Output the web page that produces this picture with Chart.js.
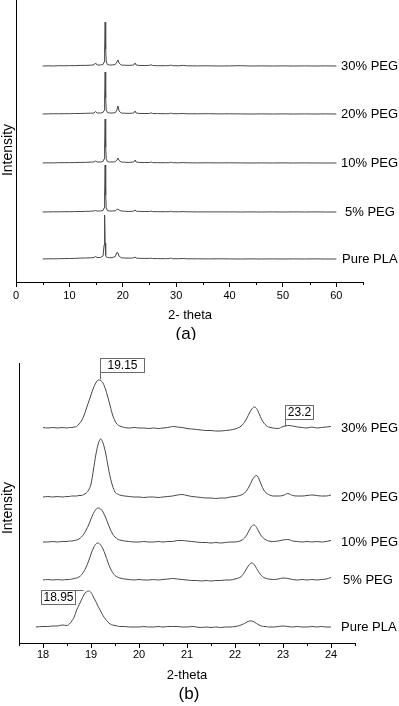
<!DOCTYPE html>
<html>
<head>
<meta charset="utf-8">
<script src="https://cdn.jsdelivr.net/npm/chart.js@4.4.1/dist/chart.umd.min.js"></script>
<style>
  html, body { margin: 0; padding: 0; background: #fff; }
  .wrap { position: relative; width: 399px; height: 706px; }
  canvas { position: absolute; left: 0; }
  #chartA { top: 0; }
  #chartB { top: 340px; }
</style>
</head>
<body>
<div class="wrap">
  <canvas id="chartA" width="399" height="340"></canvas>
  <canvas id="chartB" width="399" height="366"></canvas>
</div>
<script>
// series names, top to bottom
const seriesNames = ['30% PEG', '20% PEG', '10% PEG', '5% PEG', 'Pure PLA'];

// ---- panel (a): full scan, 2-theta 5..60 ----
const thetaA = [5, 6, 7, 8, 9, 10, 11, 12, 13, 14,
  14.6, 14.9, 15.2, 15.8, 16.3, 16.5, 16.6, 16.7, 16.8, 16.9,
  17.1, 17.5, 18.0, 18.6, 18.9, 19.1, 19.3, 19.7, 20.3, 21.0,
  21.8, 22.1, 22.3, 22.5, 23.0, 24.0, 25.0, 25.3, 25.6, 26.5,
  28.0, 28.7, 29.0, 29.3, 30.5, 31.3, 32.0, 34, 36, 38,
  40, 42, 44, 46, 48, 50, 52, 54, 56, 58,
  60];
const peg30A = [0, 0.2, 0, 0.3, 0.2, 0.4, 0.3, 0.6, 0.6, 0.8,
  1.2, 3, 1, 1, 1.5, 4, 16, 44, 17, 5,
  1.5, 1, 1, 1.5, 4, 6, 3, 1, 0.8, 0.6,
  0.8, 1.2, 3, 1, 0.6, 0.5, 0.6, 1.3, 0.5, 0.3,
  0.3, 0.4, 1, 0.3, 0.2, 0.6, 0.2, 0.1, 0.2, 0,
  0.1, 0.3, 0, 0.1, 0, 0.1, 0, 0.1, 0, 0.1,
  0];
const peg20A = [0, 0.1, 0.3, 0.2, 0.3, 0.3, 0.5, 0.5, 0.7, 0.8,
  1, 2.5, 1, 1, 1.5, 3.5, 15, 42, 16, 4.5,
  1.5, 1, 1, 1.3, 4, 8, 3, 1, 0.8, 0.6,
  0.8, 1.2, 3, 1, 0.6, 0.5, 0.5, 1.2, 0.5, 0.4,
  0.3, 0.3, 1, 0.3, 0.3, 0.5, 0.2, 0.2, 0.3, 0.1,
  0.2, 0.1, 0, 0.1, 0, 0.1, 0, 0.1, 0, 0.1,
  0];
const peg10A = [0, 0.2, 0.1, 0.3, 0.3, 0.4, 0.4, 0.6, 0.6, 0.9,
  1, 2, 1, 1, 1.5, 4, 16, 44, 16, 4.5,
  1.5, 1, 1, 1.3, 3, 5, 2.5, 1, 0.8, 0.6,
  0.8, 1.2, 3, 1, 0.6, 0.5, 0.5, 1, 0.4, 0.3,
  0.3, 0.3, 0.8, 0.3, 0.2, 0.4, 0.2, 0.1, 0.2, 0.1,
  0.2, 0.1, 0, 0.1, 0, 0.1, 0, 0.1, 0, 0,
  0];
const peg5A = [0, 0.1, 0.2, 0.2, 0.3, 0.3, 0.4, 0.5, 0.6, 0.8,
  1, 1.5, 1, 1, 1.5, 4, 17, 47, 17, 4.5,
  1.5, 1, 1, 1.2, 2.5, 3, 2, 1, 0.8, 0.6,
  0.7, 1, 2, 0.8, 0.6, 0.5, 0.5, 0.9, 0.4, 0.3,
  0.3, 0.3, 0.8, 0.3, 0.2, 0.4, 0.2, 0.1, 0.1, 0.1,
  0.1, 0, 0.1, 0, 0.1, 0, 0.1, 0, 0.1, 0,
  0];
const plaA = [0, 0.2, 0.2, 0.3, 0.4, 0.5, 0.6, 0.9, 1, 1.2,
  1.5, 2.5, 1.5, 1.5, 3, 14, 44, 16, 4, 2,
  1.5, 1.3, 1.3, 2.5, 6.5, 6, 3, 1.2, 1, 0.9,
  1, 1.3, 2, 1, 0.7, 0.6, 0.6, 0.8, 0.5, 0.4,
  0.3, 0.4, 1, 0.3, 0.3, 0.5, 0.2, 0.2, 0.1, 0.2,
  0.1, 0, 0.1, 0, 0.1, 0, 0.1, 0, 0.1, 0,
  0];
const ticksA = [0, 10, 20, 30, 40, 50, 60];
const minorA = [5, 15, 25, 35, 45, 55, 65];

// ---- panel (b): zoom 18..24 ----
const thetaB = [17.85, 18.0, 18.1, 18.2, 18.3, 18.4, 18.5, 18.55, 18.6, 18.65,
  18.7, 18.75, 18.8, 18.85, 18.9, 18.95, 19.0, 19.05, 19.1, 19.15,
  19.2, 19.25, 19.3, 19.35, 19.4, 19.45, 19.5, 19.55, 19.6, 19.7,
  19.8, 19.9, 20.0, 20.1, 20.2, 20.3, 20.4, 20.5, 20.6, 20.7,
  20.8, 20.9, 21.0, 21.1, 21.2, 21.3, 21.4, 21.5, 21.6, 21.7,
  21.8, 21.9, 22.0, 22.1, 22.15, 22.2, 22.25, 22.3, 22.35, 22.4,
  22.45, 22.5, 22.55, 22.6, 22.65, 22.7, 22.8, 22.9, 23.0, 23.1,
  23.2, 23.3, 23.4, 23.5, 23.6, 23.7, 23.8, 23.9, 24.0];
const peg30B = [null, 0.5, 0, 0.5, 0, 0.5, 0, 0.5, 0.5, 1,
  1.5, 4, 7, 12, 19, 26, 33, 40, 45, 48,
  47.5, 45, 39, 31, 22, 13, 7, 3.5, 2, 0.5,
  0, 0.5, 0, 0, -0.5, 0, -0.5, 0, 0.5, 1.5,
  1, 0.5, -0.5, -1, -1.5, -2, -2.5, -2.5, -3, -3,
  -2.5, -2, -1, 1, 3, 6, 10, 15, 19, 21,
  19.5, 14.5, 9, 5, 2.5, 1, 0, -0.5, 1.5, 2.5,
  2, 1, 0.5, 0, 1, 0, 0.5, 1, 1.5];
const peg20B = [null, 0, 0.5, 0, 0.5, 0, 0.5, 0.5, 1, 1,
  1, 1.5, 1.5, 2.5, 4, 7, 13, 27, 42, 53,
  58, 54, 45, 32, 20, 11, 5, 3, 2, 1,
  0.5, 0, 0, -0.5, 0, 0, -0.5, 0, 0.5, 1,
  2, 2.5, 1.5, 0.5, 0, -0.5, -1, -1, -1.5, -1,
  -1, 0, 0.5, 1.5, 2.5, 4, 7, 11, 16, 20,
  21.5, 18, 12, 7, 4, 2.5, 1, 1, 1.5, 3.5,
  1.5, 1, 1, 1.5, 2, 1.5, 1, 1, 2];
const peg10B = [null, 0, 0, 0.5, 0, 0.5, 0.5, 1, 1, 1.5,
  2, 3, 5, 8, 12, 17, 23, 28.5, 32.5, 34,
  33, 30, 25, 19, 13, 8, 5, 3, 2, 1,
  0.5, 0, 0, 0.5, 0, 0, 0.5, 0, 0.5, 0.5,
  1.5, 1.5, 1, 0.5, 0, -0.5, -0.5, -1, -0.5, -1,
  -0.5, 0, 0, 1, 2, 4, 7.5, 12, 16, 17,
  14.5, 10, 6, 3.5, 2, 1, 0.5, 1, 2, 2.5,
  1, 0.5, 0, 0.5, 0, 0.5, 0, 0.5, 1.5];
const peg5B = [null, 0, 0.5, 0, 0.5, 0, 0.5, 0.5, 1, 1.5,
  2, 3, 5, 8.5, 13, 19, 26, 32, 36, 37,
  35, 31, 25, 18, 12, 7.5, 4.5, 3, 2, 1,
  0.5, 0, 0.5, 0, 0, 0.5, 0, 0.5, 1, 1.5,
  1, 0.5, 0, -0.5, -0.5, -1, -0.5, -1, -0.5, -0.5,
  0, 0, 1, 2.5, 4.5, 8, 12, 15.5, 17, 15.5,
  11.5, 7.5, 4.5, 2.5, 1.5, 1, 0.5, 1, 2, 1.5,
  0.5, 0, 0.5, 0, 0.5, 0, 0.5, 1, 2.5];
const plaB = [0, 0.5, 0.5, 1, 1, 2, 1.5, 3, 6, 10,
  17, 22, 27, 32, 35, 36, 34.5, 30, 25.5, 20.5,
  16, 11.5, 8, 5, 3, 2, 1.5, 1, 0.5, 0.5,
  0, 0, 0, 0.5, 0, 0, 0.5, 0, 0.5, 0.5,
  0.5, 0, 0, 0.5, 0, -0.5, 0, -0.5, 0, -0.5,
  0, 0, 0.5, 1.5, 2.5, 3.5, 5, 6, 6, 5,
  3.5, 2, 1, 0.5, 0.5, 0, 0, 0.5, 1, 0.5,
  0, 0.5, 0, 0, 0.5, 0, 0.5, 0, 0];
const ticksB = [18, 19, 20, 21, 22, 23, 24];
const minorB = [17.5, 18.5, 19.5, 20.5, 21.5, 22.5, 23.5, 24.5];

// peak callouts in panel (b): label, 2-theta, series index, peak height
const calloutText = ['19.15', '23.2', '18.95'];
const calloutTheta = [19.15, 23.0, 18.95];
const calloutSeries = [0, 0, 4];
const calloutPeak = [48, 1.5, 36];

// vertical stacking of the traces (layout)
const offsetsA = [216, 168, 119, 70, 23];
const offsetsB = [215, 146, 101, 63, 16];

const FONT = '"Liberation Sans", Arial, Helvetica, sans-serif';
const TRACE = '#474747';

function toPoints(theta, vals, off) {
  return theta.map((t, i) => ({ x: t, y: vals[i] == null ? null : vals[i] + off }));
}

const panelText = {
  id: 'panelText',
  afterDraw(chart, args, o) {
    const ctx = chart.ctx;
    const xs = chart.scales.x, ys = chart.scales.y;
    ctx.save();
    // minor ticks
    ctx.strokeStyle = '#000';
    ctx.lineWidth = 1;
    o.minor.forEach(v => {
      const px = Math.round(xs.getPixelForValue(v)) + 0.5;
      ctx.beginPath();
      ctx.moveTo(px, Math.round(xs.top));
      ctx.lineTo(px, Math.round(xs.top) + 3);
      ctx.stroke();
    });
    ctx.fillStyle = '#000';
    ctx.textBaseline = 'middle';
    // series names at right
    ctx.font = '13px ' + FONT;
    ctx.textAlign = 'left';
    seriesNames.forEach((n, i) => {
      ctx.fillText(n, o.nameX[i], ys.getPixelForValue(o.offsets[i]));
    });
    // x title and caption
    ctx.textAlign = 'center';
    ctx.font = '13px ' + FONT;
    ctx.fillText(o.xTitle, o.xTitlePos[0], o.xTitlePos[1]);
    ctx.font = '17px ' + FONT;
    ctx.fillText(o.caption, o.captionPos[0], o.captionPos[1]);
    // y title
    ctx.save();
    ctx.translate(o.yTitlePos[0], o.yTitlePos[1]);
    ctx.rotate(-Math.PI / 2);
    ctx.font = '14px ' + FONT;
    ctx.fillText('Intensity', 0, 0);
    ctx.restore();
    // callouts
    if (o.callouts) {
      ctx.font = '12px ' + FONT;
      ctx.strokeStyle = '#6a6a6a';
      calloutText.forEach((t, i) => {
        const px = Math.round(xs.getPixelForValue(calloutTheta[i])) + 0.5;
        const py = Math.round(ys.getPixelForValue(o.offsets[calloutSeries[i]] + calloutPeak[i])) + 0.5;
        const w = Math.round(ctx.measureText(t).width) + o.boxPad[i], h = 14;
        let bx, by;
        ctx.beginPath();
        if (i === 2) {
          bx = px - 14 - w; by = py - 1;
          ctx.moveTo(bx + w, by); ctx.lineTo(px - 6, by);
        } else {
          bx = px + 2; by = py - 8 - h;
          ctx.moveTo(bx, by + h); ctx.lineTo(bx, py - 1);
        }
        ctx.stroke();
        ctx.fillStyle = '#fff';
        ctx.fillRect(bx, by, w, h);
        ctx.strokeRect(bx, by, w, h);
        ctx.fillStyle = '#000';
        ctx.fillText(t, bx + w / 2, by + h / 2 + 0.5);
      });
    }
    ctx.restore();
  }
};

function makeChart(id, theta, sets, offsets, cfg) {
  new Chart(document.getElementById(id), {
    type: 'line',
    data: {
      datasets: sets.map((vals, i) => ({
        label: seriesNames[i],
        data: toPoints(theta, vals, offsets[i]),
        borderColor: TRACE,
        borderWidth: 1,
        pointRadius: 0,
        fill: false,
        tension: cfg.smooth ? 0.4 : 0,
        cubicInterpolationMode: cfg.smooth ? 'monotone' : 'default',
        spanGaps: false
      }))
    },
    options: {
      responsive: false,
      animation: false,
      devicePixelRatio: 1,
      layout: { padding: cfg.padding },
      plugins: {
        legend: { display: false },
        tooltip: { enabled: false },
        panelText: Object.assign({ offsets: offsets }, cfg.text)
      },
      scales: {
        x: {
          type: 'linear',
          min: cfg.xMin,
          max: cfg.xMax,
          afterBuildTicks: s => { s.ticks = cfg.ticks.map(v => ({ value: v })); },
          afterFit: s => { s.height = cfg.xHeight; },
          ticks: {
            color: '#000',
            font: { family: FONT, size: 11 },
            padding: cfg.tickPad,
            maxRotation: 0,
            autoSkip: false
          },
          grid: { drawOnChartArea: false, drawTicks: true, tickLength: 5, color: '#000', lineWidth: 1 },
          border: { display: true, color: '#000', width: 1 }
        },
        y: {
          type: 'linear',
          min: 0,
          max: cfg.yMax,
          afterFit: s => { s.width = cfg.yWidth; },
          ticks: { display: false },
          grid: { display: false, drawTicks: false },
          border: { display: true, color: '#000', width: 1 }
        }
      }
    },
    plugins: [panelText]
  });
}

makeChart('chartA', thetaA, [peg30A, peg20A, peg10A, peg5A, plaA], offsetsA, {
  xMin: 0, xMax: 65, ticks: ticksA, yMax: 282,
  xHeight: 58, yWidth: 16, tickPad: 2,
  padding: { top: 0, right: 36, left: 0, bottom: 0 },
  smooth: false,
  text: {
    minor: minorA,
    nameX: [341, 341, 341, 345, 342],
    xTitle: '2- theta', xTitlePos: [190, 315],
    caption: '(a)', captionPos: [186, 334],
    yTitlePos: [8, 150],
    callouts: false
  }
});

makeChart('chartB', thetaB, [peg30B, peg20B, peg10B, peg5B, plaB], offsetsB, {
  xMin: 17.5, xMax: 24.5, ticks: ticksB, yMax: 280,
  xHeight: 63, yWidth: 19, tickPad: 0,
  padding: { top: 23, right: 44, left: 0, bottom: 0 },
  smooth: true,
  text: {
    minor: minorB,
    nameX: [341, 341, 341, 343, 341],
    xTitle: '2-theta', xTitlePos: [187, 335],
    caption: '(b)', captionPos: [189, 354],
    yTitlePos: [8, 168],
    callouts: true,
    boxPad: [14, 5, 4]
  }
});
</script>
</body>
</html>
